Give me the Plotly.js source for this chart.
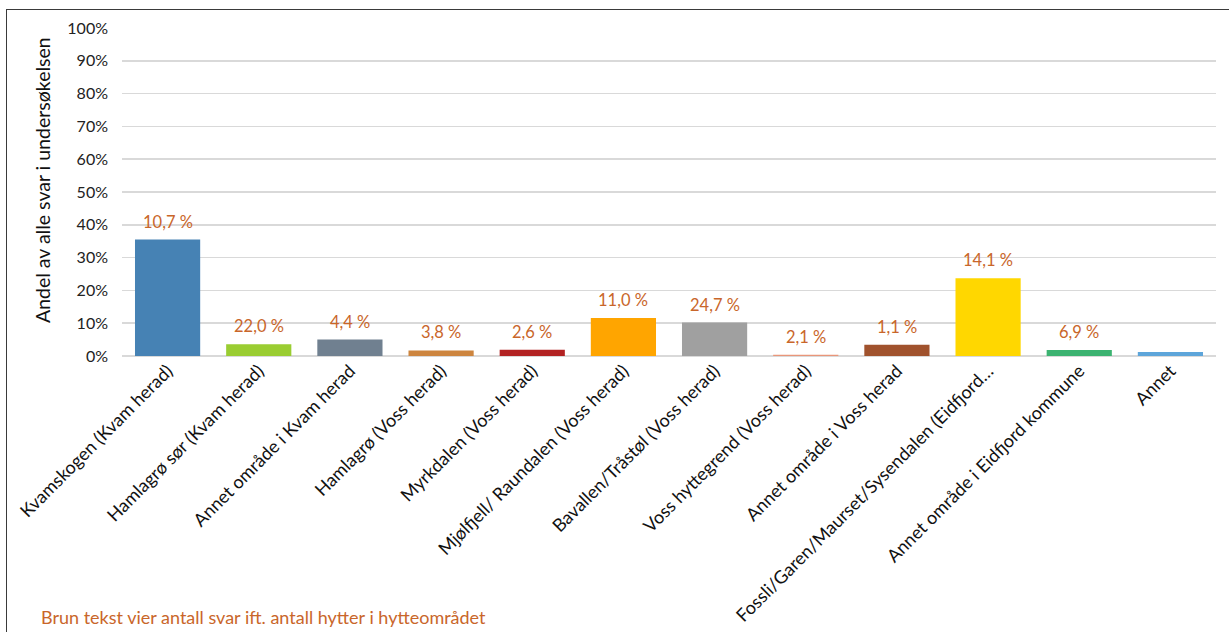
<!DOCTYPE html>
<html>
<head>
<meta charset="utf-8">
<script src="https://cdn.plot.ly/plotly-3.0.1.min.js"></script>
<style>
  html, body { margin: 0; padding: 0; background: #ffffff; overflow: hidden; }
  #chart { position: absolute; left: 0; top: 0; width: 1229px; height: 632px; }
  #frame { position: absolute; left: 6px; top: 9px; width: 1260px; height: 660px;
           border: 1px solid #3a3a3a; pointer-events: none; box-sizing: border-box; }
</style>
</head>
<body>
<div id="chart"></div>
<div id="frame"></div>
<script>
const categories = [
  "Kvamskogen (Kvam herad)",
  "Hamlagrø sør (Kvam herad)",
  "Annet område i Kvam herad",
  "Hamlagrø (Voss herad)",
  "Myrkdalen (Voss herad)",
  "Mjølfjell/ Raundalen (Voss herad)",
  "Bavallen/Tråstøl (Voss herad)",
  "Voss hyttegrend (Voss herad)",
  "Annet område i Voss herad",
  "Fossli/Garen/Maurset/Sysendalen (Eidfjord…",
  "Annet område i Eidfjord kommune",
  "Annet"
];
const shareOfAnswers = [0.355, 0.036, 0.050, 0.017, 0.019, 0.116, 0.102, 0.004, 0.034, 0.237, 0.018, 0.012];
const brownLabels = ["10,7 %", "22,0 %", "4,4 %", "3,8 %", "2,6 %", "11,0 %", "24,7 %", "2,1 %", "1,1 %", "14,1 %", "6,9 %", ""];
const barColors = ["#4682B4", "#9ACD32", "#708090", "#CD853F", "#B22222", "#FFA500",
                   "#A0A0A0", "#E9967A", "#A0522D", "#FFD700", "#3CB371", "#5DA5DA"];
const yTitle = "Andel av alle svar i undersøkelsen";
const footnote = "Brun tekst vier antall svar ift. antall hytter i hytteområdet";

const FONT = "Lato, 'Open Sans', sans-serif";
const BROWN = "#C9662A";

const trace = {
  type: "bar",
  x: categories,
  y: shareOfAnswers,
  marker: { color: barColors, line: { width: 0 } },
  hoverinfo: "none"
};

const annotations = categories.map((c, i) => ({
  x: c, y: shareOfAnswers[i], xref: "x", yref: "y",
  text: brownLabels[i], showarrow: false,
  yanchor: "bottom", yshift: 6,
  font: { family: FONT, size: 16.5, color: BROWN }
})).filter(a => a.text !== "");

annotations.push({
  xref: "paper", yref: "paper",
  x: (39 - 122) / 1094, y: -(617 - 356) / 328,
  xanchor: "left", yanchor: "middle",
  text: footnote, showarrow: false,
  font: { family: FONT, size: 18, color: BROWN }
});

// y-axis title (placed as rotated text so it can sit where the original has it)
annotations.push({
  xref: "paper", yref: "paper",
  x: (42 - 122) / 1094, y: (356 - 180) / 328,
  xanchor: "center", yanchor: "middle",
  textangle: -90,
  text: yTitle, showarrow: false,
  font: { family: FONT, size: 19.5, color: "#111111" }
});

const layout = {
  width: 1229, height: 632,
  margin: { l: 122, r: 13, t: 28, b: 276, autoexpand: false },
  paper_bgcolor: "rgba(0,0,0,0)",
  plot_bgcolor: "#ffffff",
  showlegend: false,
  bargap: 0.285,
  font: { family: FONT, size: 16, color: "#222222" },
  xaxis: {
    type: "category",
    tickangle: -45,
    showgrid: false,
    showline: false,
    zeroline: false,
    ticks: "",
    tickfont: { family: FONT, size: 18, color: "#111111" },
    automargin: false
  },
  yaxis: {
    range: [0, 1],
    dtick: 0.1,
    tickformat: ".0%",
    showgrid: true,
    gridcolor: "#D9D9D9",
    gridwidth: 1.5,
    zeroline: true,
    zerolinecolor: "#D9D9D9",
    zerolinewidth: 1.5,
    showline: false,
    ticks: "",
    ticklabelstandoff: 13,
    tickfont: { family: FONT, size: 16, color: "#222222" },
    automargin: false,
    fixedrange: true
  },
  annotations: annotations
};

Plotly.newPlot("chart", [trace], layout, { staticPlot: true, displayModeBar: false });
</script>
</body>
</html>
